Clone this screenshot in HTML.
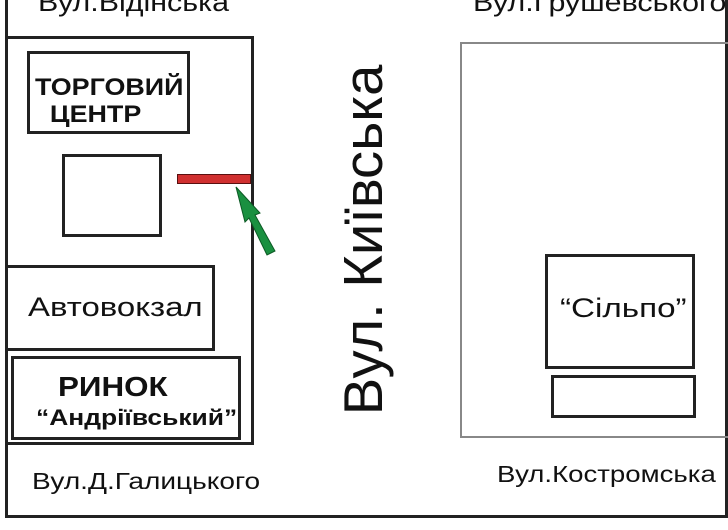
<!DOCTYPE html>
<html><head><style>
body{margin:0;width:728px;height:530px;background:#fff;position:relative;overflow:hidden;font-family:"Liberation Sans","DejaVu Sans",sans-serif;}
.b{position:absolute;border:3px solid #222;box-sizing:border-box;}
.t{position:absolute;white-space:nowrap;color:#111;transform-origin:0 0;}
</style></head><body>
<div class="b" style="left:5px;top:-5px;width:723px;height:523px;"></div>
<div class="b" style="left:5px;top:36px;width:249px;height:409px;"></div>
<div class="b" style="left:27px;top:51px;width:163px;height:83px;"></div>
<div class="b" style="left:62px;top:154px;width:100px;height:83px;"></div>
<div class="b" style="left:5px;top:265px;width:210px;height:86px;"></div>
<div class="b" style="left:11px;top:356px;width:230px;height:84px;"></div>
<div style="position:absolute;left:460px;top:42px;width:270px;height:396px;border:2px solid #888;box-sizing:border-box;"></div>
<div class="b" style="left:545px;top:254px;width:150px;height:115px;"></div>
<div class="b" style="left:551px;top:375px;width:145px;height:43px;"></div>
<div style="position:absolute;left:177px;top:174px;width:74px;height:10px;background:#d03030;border:1px solid #5a1010;box-sizing:border-box;"></div>
<svg style="position:absolute;left:0;top:0" width="728" height="530"><polygon points="236,187 260,213 255,215 275,251 267,255 249,218 245,222" fill="#1a9040" stroke="#0d5a25" stroke-width="1"/></svg>
<div class="t" style="left:38px;top:-13px;font-size:26px;transform:scaleX(1.17);">Вул.Відінська</div>
<div class="t" style="left:473px;top:-13px;font-size:26px;transform:scaleX(1.17);">Вул.Грушевського</div>
<div class="t" style="left:35px;top:74px;font-size:24px;font-weight:bold;line-height:27px;transform:scaleX(1.12);">ТОРГОВИЙ<br>&nbsp;&nbsp;ЦЕНТР</div>
<div class="t" style="left:28px;top:292px;font-size:27px;transform:scaleX(1.22);">Автовокзал</div>
<div class="t" style="left:58px;top:371px;font-size:28px;font-weight:bold;transform:scaleX(1.12);">РИНОК</div>
<div class="t" style="left:36px;top:405px;font-size:22px;font-weight:bold;transform:scaleX(1.2);">“Андріївський”</div>
<div class="t" style="left:560px;top:293px;font-size:27px;transform:scaleX(1.23);">“Сільпо”</div>
<div class="t" style="left:32px;top:468px;font-size:23px;transform:scaleX(1.22);">Вул.Д.Галицького</div>
<div class="t" style="left:497px;top:461px;font-size:23px;transform:scaleX(1.2);">Вул.Костромська</div>
<div style="position:absolute;left:363px;top:240px;width:0;height:0;">
<div class="t" style="left:0;top:0;font-size:55px;transform:translate(-50%,-50%) rotate(-90deg) scaleX(1.02);transform-origin:50% 50%;">Вул. Київська</div>
</div>
</body></html>
